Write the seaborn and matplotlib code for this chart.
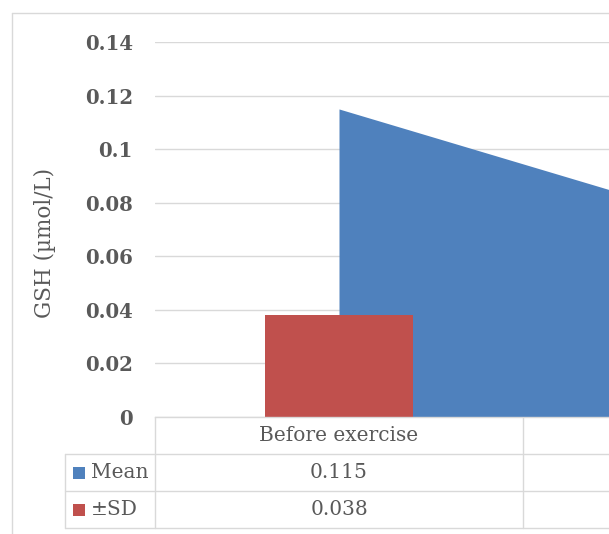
import matplotlib
matplotlib.use("Agg")
import matplotlib.pyplot as plt
import seaborn as sns

# Series values per measurement time
categories = ["Before exercise", "After exercise"]
mean_values = [0.115, 0.074]
sd_values = [0.038, 0.030]
series_names = ["Mean", "\u00b1SD"]
y_ticks = [0, 0.02, 0.04, 0.06, 0.08, 0.1, 0.12, 0.14]
y_label = "GSH (\u00b5mol/L)"

BLUE = "#4F81BD"
RED = "#C0504D"
GRID = "#D9D9D9"
TEXT = "#595959"

sns.set_theme(style="white")
plt.rcParams["font.family"] = ["DejaVu Serif"]

W, H = 609, 534
fig = plt.figure(figsize=(W / 100, H / 100), dpi=100)
fig.patch.set_facecolor("white")

# Pixel-space overlay for the chart frame and the data table
ov = fig.add_axes([0, 0, 1, 1], zorder=0)
ov.set_xlim(0, W)
ov.set_ylim(H, 0)
ov.axis("off")
ov.patch.set_alpha(0)

# Plot area: two category slots, the second one running past the right edge
left_px, top_px, bottom_px, slot_px = 155, 42, 417, 368
ax = fig.add_axes([left_px / W, (H - bottom_px) / H,
                   2 * slot_px / W, (bottom_px - top_px) / H], zorder=1)
ax.patch.set_alpha(0)

xpos = list(range(len(categories)))
ax.fill_between(xpos, mean_values, 0, color=BLUE, linewidth=0, zorder=1)
sns.barplot(x=categories, y=sd_values, color=RED, saturation=1, width=0.4,
            ax=ax, zorder=2)
for p in ax.patches:
    p.set_zorder(2)
    p.set_linewidth(0)

ax.set_xlim(-0.5, len(categories) - 0.5)
ax.set_ylim(0, 0.14)
ax.set_yticks(y_ticks)
ax.set_yticklabels([f"{v:g}" for v in y_ticks])
ax.set_axisbelow(True)
ax.yaxis.grid(True, color=GRID, linewidth=1.0)
ax.xaxis.grid(False)
for side in ["left", "right", "top"]:
    ax.spines[side].set_visible(False)
ax.spines["bottom"].set_color(GRID)
ax.spines["bottom"].set_linewidth(1.0)
ax.tick_params(axis="x", labelbottom=False, length=0)
ax.tick_params(axis="y", length=0, pad=16, labelsize=14.2, labelcolor=TEXT)
for t in ax.get_yticklabels():
    t.set_fontweight("bold")
ax.set_xlabel("")
ax.set_ylabel(y_label, fontsize=15.5, color=TEXT, va="center")
ax.yaxis.set_label_coords((45 - left_px) / (2 * slot_px),
                          (bottom_px - 243) / (bottom_px - top_px))


def px(xd):
    return ax.transData.transform((xd, 0))[0]


# Outer chart frame
ov.plot([11.5, 11.5], [12.5, H + 5], color=GRID, lw=1.0)
ov.plot([11.5, W + 5], [12.5, 12.5], color=GRID, lw=1.0)

# Data table under the plot area
row_lines = [454, 491, 528]
key_left = 65
table_right = px(len(categories) - 0.5)
for y in row_lines:
    ov.plot([key_left, table_right], [y, y], color=GRID, lw=1.0)
ov.plot([key_left, key_left], [row_lines[0], row_lines[-1]], color=GRID, lw=1.0)
for i in range(len(categories) + 1):
    x = px(i - 0.5)
    ov.plot([x, x], [bottom_px, row_lines[-1]], color=GRID, lw=1.0)

# Only cells whose centre falls inside the figure get their text
visible = [i for i in range(len(categories)) if px(i) < W]

header_y = (bottom_px + row_lines[0]) / 2
for i in visible:
    ov.text(px(i), header_y, categories[i], ha="center", va="center",
            fontsize=14.5, color=TEXT)

rows = [(series_names[0], BLUE, mean_values), (series_names[1], RED, sd_values)]
for r, (name, col, vals) in enumerate(rows):
    yc = (row_lines[r] + row_lines[r + 1]) / 2
    ov.add_patch(plt.Rectangle((73, yc - 6), 12, 12, color=col, lw=0))
    ov.text(91, yc, name, ha="left", va="center", fontsize=14.5, color=TEXT)
    for i in visible:
        ov.text(px(i), yc, f"{vals[i]:.3f}", ha="center", va="center",
                fontsize=14.5, color=TEXT)

fig.savefig("out.png", dpi=100)
